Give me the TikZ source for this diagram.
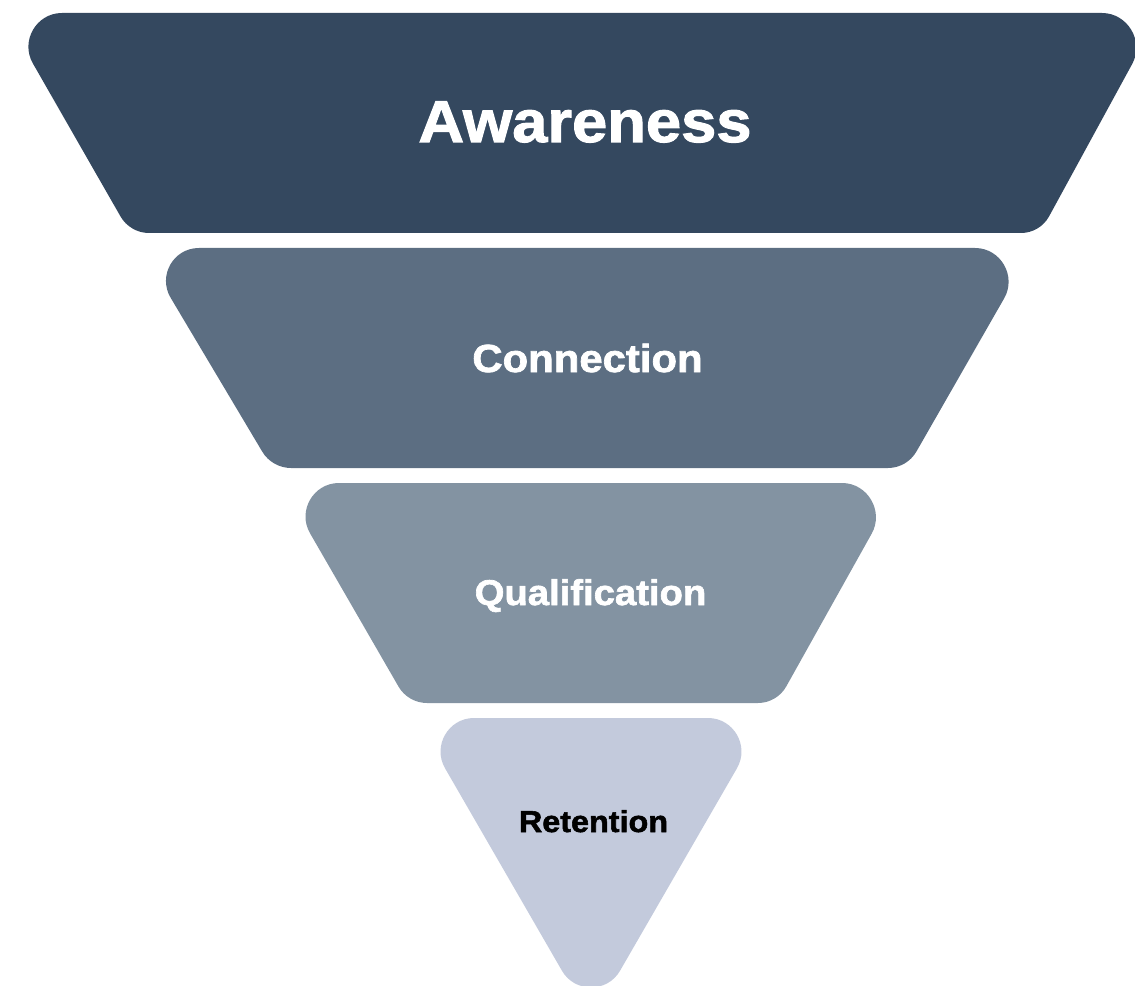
\documentclass[tikz,border=0pt]{standalone}
\usepackage{fontspec}
\usepackage{tikz}
\usetikzlibrary{calc}
\newfontfamily\funnelfont{Liberation Sans Bold}[FakeStretch=1.07,FakeBold=1.8]
\definecolor{awarenessblue}{HTML}{34485F}
\definecolor{connectionblue}{HTML}{5C6E82}
\definecolor{qualificationblue}{HTML}{8393A2}
\definecolor{retentionblue}{HTML}{C3CADC}
\newcommand{\sharpcut}{1.74cm}
\newcommand{\sharpctrl}{0.97cm}
\newcommand{\bluntcut}{0.57cm}
\newcommand{\bluntctrl}{0.22cm}
\newcommand{\bandcorner}[5]{.. controls ($(#2)!#5!(#1)$) and ($(#2)!#5!(#3)$) .. ($(#2)!#4!(#3)$)}

\begin{document}
\begin{tikzpicture}[x=0.03cm,y=-0.03cm]
	\clip (0,0) rectangle (1135,986);
	\foreach \band/\col/\yt/\yb/\tl/\tr/\bl/\br in {awareness/awarenessblue/13/233/4/1160/130/1040, connection/connectionblue/248/468/141/1033/272/907, qualification/qualificationblue/483/703/281/900/408/777} {
		\coordinate (\band-tl) at (\tl,\yt);
		\coordinate (\band-tr) at (\tr,\yt);
		\coordinate (\band-br) at (\br,\yb);
		\coordinate (\band-bl) at (\bl,\yb);
		\fill[\col] ($(\band-tl)!\sharpcut!(\band-tr)$) -- ($(\band-tr)!\sharpcut!(\band-tl)$)
			\bandcorner{\band-tl}{\band-tr}{\band-br}{\sharpcut}{\sharpctrl}
			-- ($(\band-br)!\bluntcut!(\band-tr)$)
			\bandcorner{\band-tr}{\band-br}{\band-bl}{\bluntcut}{\bluntctrl}
			-- ($(\band-bl)!\bluntcut!(\band-br)$)
			\bandcorner{\band-br}{\band-bl}{\band-tl}{\bluntcut}{\bluntctrl}
			-- ($(\band-tl)!\sharpcut!(\band-bl)$)
			\bandcorner{\band-bl}{\band-tl}{\band-tr}{\sharpcut}{\sharpctrl}
			-- cycle;
	}
	\coordinate (retention-tl) at (416,718);
	\coordinate (retention-tr) at (766,718);
	\coordinate (retention-tip) at (591,1021);
	\fill[retentionblue] ($(retention-tl)!\sharpcut!(retention-tr)$) -- ($(retention-tr)!\sharpcut!(retention-tl)$)
		\bandcorner{retention-tl}{retention-tr}{retention-tip}{\sharpcut}{\sharpctrl}
		-- ($(retention-tip)!\sharpcut!(retention-tr)$)
		\bandcorner{retention-tr}{retention-tip}{retention-tl}{\sharpcut}{\sharpctrl}
		-- ($(retention-tl)!\sharpcut!(retention-tip)$)
		\bandcorner{retention-tip}{retention-tl}{retention-tr}{\sharpcut}{\sharpctrl}
		-- cycle;
	\foreach \band/\x/\y/\size/\ink/\word in {awareness/585/142/50.5/white/Awareness, connection/587.5/372/33.4/white/Connection, qualification/590.5/605/30.5/white/Qualification, retention/593.5/832/25.8/black/Retention} {
		\node[anchor=base,inner sep=0pt,text=\ink,font=\funnelfont\fontsize{\size}{\size}\selectfont] (\band-label) at (\x,\y) {\word};
	}
\end{tikzpicture}
\end{document}
